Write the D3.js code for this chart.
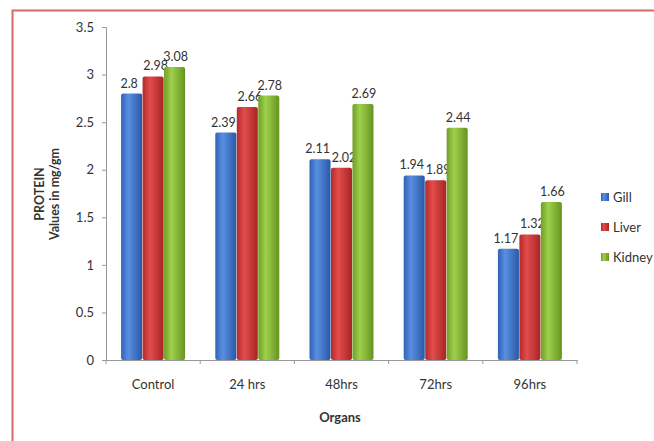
<!DOCTYPE html>
<html>
<head>
<meta charset="utf-8">
<script src="https://cdn.jsdelivr.net/npm/d3@7"></script>
<style>
  body { margin: 0; background: #fff; }
  svg text { font-family: Lato, "Liberation Sans", sans-serif; fill: #333; }
</style>
</head>
<body>
<div id="chart"></div>
<script>
const WIDTH = 654
const HEIGHT = 441

const categories = ['Control', '24 hrs', '48hrs', '72hrs', '96hrs']
const seriesNames = ['Gill', 'Liver', 'Kidney']
const gill = [2.8, 2.39, 2.11, 1.94, 1.17]
const liver = [2.98, 2.66, 2.02, 1.89, 1.32]
const kidney = [3.08, 2.78, 2.69, 2.44, 1.66]
const yTicks = [0, 0.5, 1, 1.5, 2, 2.5, 3, 3.5]

const seriesValues = [gill, liver, kidney]
const colors = [
  ['#2f62b8', '#5a8fe0', '#2a58a8'],
  ['#b52a2a', '#e24c4c', '#a82424'],
  ['#6f9e24', '#9fd04c', '#669420']
]
// small nudge so neighbouring labels don't collide
const labelNudge = [-2.5, 2.5, 1]

const margin = { top: 27, right: 77, bottom: 81, left: 106 }
const innerW = WIDTH - margin.left - margin.right
const innerH = HEIGHT - margin.top - margin.bottom

const svg = d3.select('#chart')
  .append('svg')
  .attr('width', WIDTH)
  .attr('height', HEIGHT)

// frame
svg.append('rect')
  .attr('x', 12.5)
  .attr('y', 10.5)
  .attr('width', WIDTH)
  .attr('height', HEIGHT)
  .attr('fill', 'none')
  .attr('stroke', '#d46a6a')
  .attr('stroke-width', 2)

const defs = svg.append('defs')
colors.forEach((c, i) => {
  const g = defs.append('linearGradient')
    .attr('id', 'grad' + i)
    .attr('x1', 0).attr('x2', 1).attr('y1', 0).attr('y2', 0)
  g.append('stop').attr('offset', '0%').attr('stop-color', c[0])
  g.append('stop').attr('offset', '35%').attr('stop-color', c[1])
  g.append('stop').attr('offset', '100%').attr('stop-color', c[2])
})

const x = d3.scaleBand()
  .domain(categories)
  .range([0, innerW])

const xSub = d3.scaleBand()
  .domain(seriesNames)
  .range([0, 64])
  .paddingInner(0.02)

const y = d3.scaleLinear()
  .domain([0, 3.5])
  .range([innerH, 0])

const g = svg.append('g')
  .attr('transform', `translate(${margin.left}, ${margin.top})`)

// y axis
const yAxis = g.append('g')
  .call(d3.axisLeft(y).tickValues(yTicks).tickFormat(d3.format('')).tickSize(4).tickPadding(8))
yAxis.select('.domain').attr('stroke', '#999')
yAxis.selectAll('.tick line').attr('stroke', '#999')
yAxis.selectAll('text').attr('font-size', 13).attr('fill', '#333')

// x axis
const xAxis = g.append('g')
  .attr('transform', `translate(0, ${innerH})`)
  .call(d3.axisBottom(x).tickSize(0).tickPadding(20))
xAxis.select('.domain').attr('stroke', '#999')
xAxis.selectAll('text').attr('font-size', 13).attr('fill', '#333')
xAxis.selectAll('.sep')
  .data(d3.range(categories.length + 1))
  .enter()
  .append('line')
  .attr('x1', i => i * x.bandwidth())
  .attr('x2', i => i * x.bandwidth())
  .attr('y1', 0)
  .attr('y2', 4)
  .attr('stroke', '#999')

// bars
const groups = g.selectAll('.group')
  .data(categories)
  .enter()
  .append('g')
  .attr('transform', d => `translate(${x(d) + (x.bandwidth() - 64) / 2}, 0)`)

seriesNames.forEach((s, si) => {
  groups.append('rect')
    .attr('x', xSub(s))
    .attr('y', (d, i) => y(seriesValues[si][i]))
    .attr('width', xSub.bandwidth())
    .attr('height', (d, i) => innerH - y(seriesValues[si][i]))
    .attr('rx', 2)
    .attr('fill', `url(#grad${si})`)
  groups.append('text')
    .attr('x', xSub(s) + xSub.bandwidth() / 2 + labelNudge[si])
    .attr('y', (d, i) => y(seriesValues[si][i]) - 6)
    .attr('text-anchor', 'middle')
    .attr('font-size', 12.5)
    .text((d, i) => seriesValues[si][i])
})

// axis titles
svg.append('text')
  .attr('x', 340)
  .attr('y', 422)
  .attr('text-anchor', 'middle')
  .attr('font-size', 13)
  .attr('font-weight', 'bold')
  .text('Organs')

svg.append('text')
  .attr('transform', 'translate(44, 194) rotate(-90)')
  .attr('text-anchor', 'middle')
  .attr('font-size', 12.5)
  .attr('font-weight', 'bold')
  .text('PROTEIN')

svg.append('text')
  .attr('transform', 'translate(59, 194) rotate(-90)')
  .attr('text-anchor', 'middle')
  .attr('font-size', 12.5)
  .attr('font-weight', 'bold')
  .text('Values in mg/gm')

// legend
const legend = svg.append('g')
  .attr('transform', 'translate(601, 197)')
seriesNames.forEach((s, i) => {
  const item = legend.append('g').attr('transform', `translate(0, ${i * 30})`)
  item.append('rect')
    .attr('x', 0).attr('y', -4)
    .attr('width', 8).attr('height', 8)
    .attr('fill', `url(#grad${i})`)
  item.append('text')
    .attr('x', 12)
    .attr('y', 4.5)
    .attr('font-size', 13)
    .text(s)
})
</script>
</body>
</html>
